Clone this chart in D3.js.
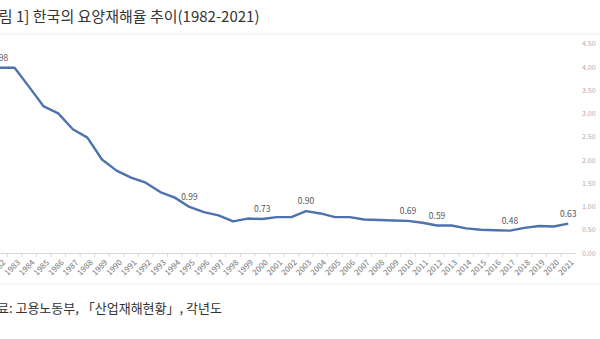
<!DOCTYPE html>
<html><head><meta charset="utf-8">
<script src="https://cdn.jsdelivr.net/npm/d3@7"></script>
<style>html,body{margin:0;padding:0;background:#fff;overflow:hidden}</style>
</head><body>
<svg id="c" width="600" height="339"></svg>
<script>
const years = d3.range(1982, 2022).map(String);
const rates = [3.98,3.98,3.57,3.15,3.00,2.66,2.48,2.01,1.77,1.62,1.51,1.31,1.19,0.99,0.88,0.81,0.68,0.74,0.73,0.77,0.77,0.90,0.85,0.77,0.77,0.72,0.71,0.70,0.69,0.65,0.59,0.59,0.53,0.50,0.49,0.48,0.54,0.58,0.57,0.63];
const labeledYears = ["1982","1995","2000","2003","2010","2012","2017","2021"];
const yTicks = [0,0.5,1,1.5,2,2.5,3,3.5,4,4.5];
const title = "[그림 1] 한국의 요양재해율 추이(1982-2021)";
const source = "자료: 고용노동부, 「산업재해현황」, 각년도";

const svg = d3.select("#c");
const font = "'Noto Sans CJK KR','Noto Sans',sans-serif";
const data = years.map((y,i)=>({year:y, v:rates[i]}));

const x = d3.scaleBand().domain(years).range([-7.3, 575.5]).padding(0);
const y = d3.scaleLinear().domain([0,4.5]).range([253,43.6]);
const cx = d => x(d) + x.bandwidth()/2;

// title
svg.append("text").attr("x",-20).attr("y",22).attr("font-family",font).attr("font-size",15)
  .attr("fill","#333").text(title);
svg.append("line").attr("x1",0).attr("x2",600).attr("y1",34).attr("y2",34).attr("stroke","#eeeeee");

// x axis
const xAxis = d3.axisBottom(x).tickSize(0).tickFormat(d=>d);
const gx = svg.append("g").attr("transform","translate(0,253)").call(xAxis);
gx.select(".domain").attr("stroke","#d9d9d9");
gx.selectAll(".tick text").attr("font-family",font).attr("font-size",8).attr("fill","#8c8c8c")
  .attr("font-weight",500)
  .attr("text-anchor","end").attr("dx",0).attr("dy",0)
  .attr("transform","translate(4,8) rotate(-45)");
// category separator ticks
svg.append("g").selectAll("line").data(years).join("line")
  .attr("x1",d=>x(d)).attr("x2",d=>x(d)).attr("y1",253).attr("y2",257).attr("stroke","#d9d9d9");

// y axis labels on right
const yAxis = d3.axisRight(y).tickValues(yTicks).tickSize(0).tickFormat(d3.format(".2f"));
const gy = svg.append("g").attr("transform","translate(582,0)").call(yAxis);
gy.select(".domain").remove();
gy.selectAll(".tick text").attr("font-family",font).attr("font-size",7).attr("fill","#aaaaaa").attr("x",0);

// line
svg.append("path").datum(data)
  .attr("d", d3.line().x(d=>cx(d.year)).y(d=>y(d.v)))
  .attr("fill","none").attr("stroke","#4d72ae").attr("stroke-width",2.4).attr("stroke-linejoin","round");

// data labels
svg.append("g").selectAll("text").data(data.filter(d=>labeledYears.includes(d.year))).join("text")
  .attr("x",d=>cx(d.year)).attr("y",d=>y(d.v)-7)
  .attr("text-anchor","middle").attr("font-family",font).attr("font-size",8.5).attr("fill","#555")
  .text(d=>d.v.toFixed(2));

// source
svg.append("line").attr("x1",0).attr("x2",600).attr("y1",284).attr("y2",284).attr("stroke","#f0f0f0");
svg.append("text").attr("x",-15).attr("y",313).attr("font-family",font).attr("font-size",13)
  .attr("fill","#333").text(source);
</script>
</body></html>
